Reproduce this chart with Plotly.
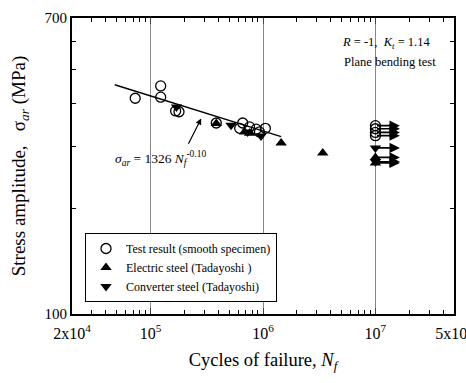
import numpy as np
import plotly.graph_objects as go

# ---- data ----
test_N = [7.3e4, 1.23e5, 1.23e5, 1.67e5, 1.79e5, 3.84e5, 6.6e5, 6.2e5, 7.6e5, 8.7e5, 1.05e6, 9.3e5]
test_S = [413, 448, 416, 380, 378, 351, 351, 339, 342, 337, 339, 331]
elec_N = [3.84e5, 6.85e5, 7.6e5, 1.45e6, 3.4e6]
elec_S = [350, 331, 328, 308, 288]
conv_N = [1.7e5, 5.2e5, 7.3e5, 9.6e5]
conv_S = [390, 346, 331, 322]

# run-outs at 1e7 cycles (no failure)
run_N = 1e7
run_test_S = [345, 338, 330, 323]
run_elec_S = [280, 270]
run_conv_S = [298, 272]

fit_A = 1326
fit_b = -0.10
fit_range = [4.8e4, 1.45e6]

x_tickvals = [2e4, 1e5, 1e6, 1e7, 5e7]
x_ticktext = ["2x10<sup>4</sup>", "10<sup>5</sup>", "10<sup>6</sup>", "10<sup>7</sup>", "5x10<sup>7</sup>"]
y_tickvals = [100, 700]
y_ticktext = ["100", "700"]

FONT = "Liberation Serif, Times New Roman, serif"

fig = go.Figure()

# fit line
fN = np.logspace(np.log10(fit_range[0]), np.log10(fit_range[1]), 50)
fig.add_trace(go.Scatter(x=fN, y=fit_A * fN ** fit_b, mode="lines",
                         line=dict(color="black", width=1.5), showlegend=False, hoverinfo="skip"))

mk = dict(size=10, color="black")
fig.add_trace(go.Scatter(x=test_N + [run_N] * len(run_test_S), y=test_S + run_test_S, mode="markers",
                         name="Test result (smooth specimen)",
                         marker=dict(symbol="circle-open", size=10, color="black", line=dict(width=1.3))))
fig.add_trace(go.Scatter(x=elec_N + [run_N] * len(run_elec_S), y=elec_S + run_elec_S, mode="markers",
                         name="Electric steel (Tadayoshi )",
                         marker=dict(symbol="triangle-up", **mk)))
fig.add_trace(go.Scatter(x=conv_N + [run_N] * len(run_conv_S), y=conv_S + run_conv_S, mode="markers",
                         name="Converter steel (Tadayoshi)",
                         marker=dict(symbol="triangle-down", **mk)))

# run-out arrows
for s in run_test_S + run_elec_S + run_conv_S:
    fig.add_annotation(x=np.log10(1.65e7), y=np.log10(s), ax=np.log10(run_N), ay=np.log10(s),
                       xref="x", yref="y", axref="x", ayref="y", showarrow=True,
                       arrowhead=2, arrowsize=1.3, arrowwidth=1.6, arrowcolor="black", text="")

# equation arrow
fig.add_annotation(x=5.45, y=2.558, ax=5.33, ay=2.482, xref="x", yref="y", axref="x", ayref="y",
                   showarrow=True, arrowhead=2, arrowsize=1, arrowwidth=1.2, arrowcolor="black", text="")
fig.add_annotation(x=(113 - 72) / 382, y=(314 - 158) / 296, xref="paper", yref="paper",
                   text="<i>σ</i><sub><i>ar</i></sub> = 1326 <i>N</i><sub><i>f</i></sub><sup>-0.10</sup>",
                   showarrow=False, xanchor="left", yanchor="middle",
                   font=dict(family=FONT, size=13.5, color="black"))

fig.add_annotation(x=(340 - 72) / 382, y=(314 - 43) / 296, xref="paper", yref="paper",
                   text="<i>R</i> = -1,  <i>K</i><sub><i>t</i></sub> = 1.14",
                   showarrow=False, xanchor="left", yanchor="middle",
                   font=dict(family=FONT, size=12.5, color="black"))
fig.add_annotation(x=(342 - 72) / 382, y=(314 - 62) / 296, xref="paper", yref="paper",
                   text="Plane bending test",
                   showarrow=False, xanchor="left", yanchor="middle",
                   font=dict(family=FONT, size=12.5, color="black"))

minor_x = [m * 10 ** d for d in range(4, 8) for m in range(2, 10) if 2e4 <= m * 10 ** d <= 5e7]
minor_y = [200, 300, 400, 500, 600]

fig.update_layout(
    width=466, height=383,
    margin=dict(l=72, r=12, t=18, b=69, autoexpand=False),
    paper_bgcolor="white", plot_bgcolor="white",
    font=dict(family=FONT, color="black"),
    legend=dict(x=(85 - 72) / 382, y=(314 - 233) / 296, xanchor="left", yanchor="top",
                bgcolor="white", bordercolor="black", borderwidth=1,
                font=dict(family=FONT, size=12, color="black"), tracegroupgap=0),
    xaxis=dict(type="log", range=[np.log10(2e4), np.log10(5e7)], automargin=False,
               tickvals=x_tickvals, ticktext=x_ticktext, ticks="inside", ticklen=6,
               tickfont=dict(family=FONT, size=16), showline=True, linecolor="black", linewidth=2,
               mirror="ticks", showgrid=True, gridcolor="#888888", gridwidth=1,
               ticklabeloverflow="allow", ticklabelstandoff=4,
               minor=dict(tickvals=minor_x, ticks="inside", ticklen=4, tickcolor="black", showgrid=False),
               title=dict(text="Cycles of failure, <i>N</i><sub><i>f</i></sub>",
                          font=dict(family=FONT, size=18.5), standoff=12),
               zeroline=False),
    yaxis=dict(type="log", range=[2, np.log10(700)], automargin=False,
               tickvals=y_tickvals, ticktext=y_ticktext, ticks="inside", ticklen=6,
               tickfont=dict(family=FONT, size=15), showline=True, linecolor="black", linewidth=2,
               mirror="ticks", showgrid=False,
               minor=dict(tickvals=minor_y, ticks="inside", ticklen=4, tickcolor="black", showgrid=False),
               title=dict(text="Stress amplitude,   σ<sub><i>ar</i></sub> (MPa)",
                          font=dict(family=FONT, size=19), standoff=14),
               zeroline=False),
)

fig.write_html("out.html")
